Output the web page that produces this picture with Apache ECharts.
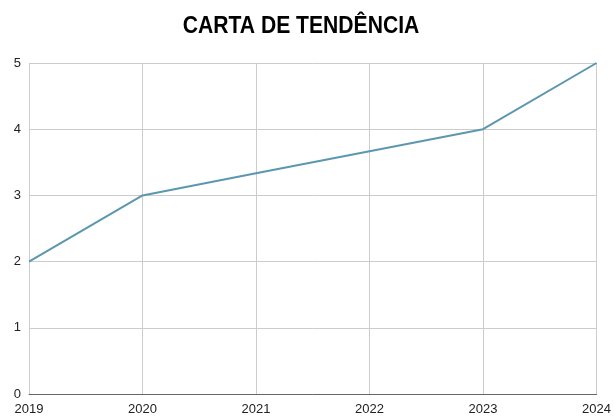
<!DOCTYPE html>
<html><head><meta charset="utf-8">
<script src="https://cdn.jsdelivr.net/npm/echarts@6/dist/echarts.min.js"></script>
<style>html,body{margin:0;padding:0;background:#fff}#c{width:614px;height:418px}</style>
</head><body><div id="c"></div>
<script>
const titleText = "CARTA DE TENDÊNCIA";
const years = ["2019","2020","2021","2022","2023","2024"];
const values = [2, 3, 3.333, 3.667, 4, 5];
const yTicks = [0, 5, 1];

const chart = echarts.init(document.getElementById('c'));
chart.setOption({
  animation:false,
  graphic:[{type:'text',x:301,y:26,scaleX:0.88,
    style:{text:titleText,font:'bold 24px "Liberation Sans", Arial',fill:'#000',align:'center',verticalAlign:'middle'}}],
  grid:{left:29,right:13,top:63,bottom:24,containLabel:false},
  xAxis:{type:'category',data:years,boundaryGap:false,
    axisLine:{lineStyle:{color:'#666',width:1}},axisTick:{show:false},
    axisLabel:{color:'#222',fontSize:13,fontFamily:'"Liberation Sans",Arial',margin:9,showMaxLabel:true},
    splitLine:{show:true,lineStyle:{color:'#ccc'}}},
  yAxis:{type:'value',min:yTicks[0],max:yTicks[1],interval:yTicks[2],
    axisLine:{show:false},axisTick:{show:false},
    axisLabel:{color:'#222',fontSize:13,fontFamily:'"Liberation Sans",Arial',margin:8},
    splitLine:{lineStyle:{color:'#ccc'}}},
  series:[{type:'line',data:values,symbol:'none',lineStyle:{color:'#5b97af',width:2}}]
});
</script></body></html>
